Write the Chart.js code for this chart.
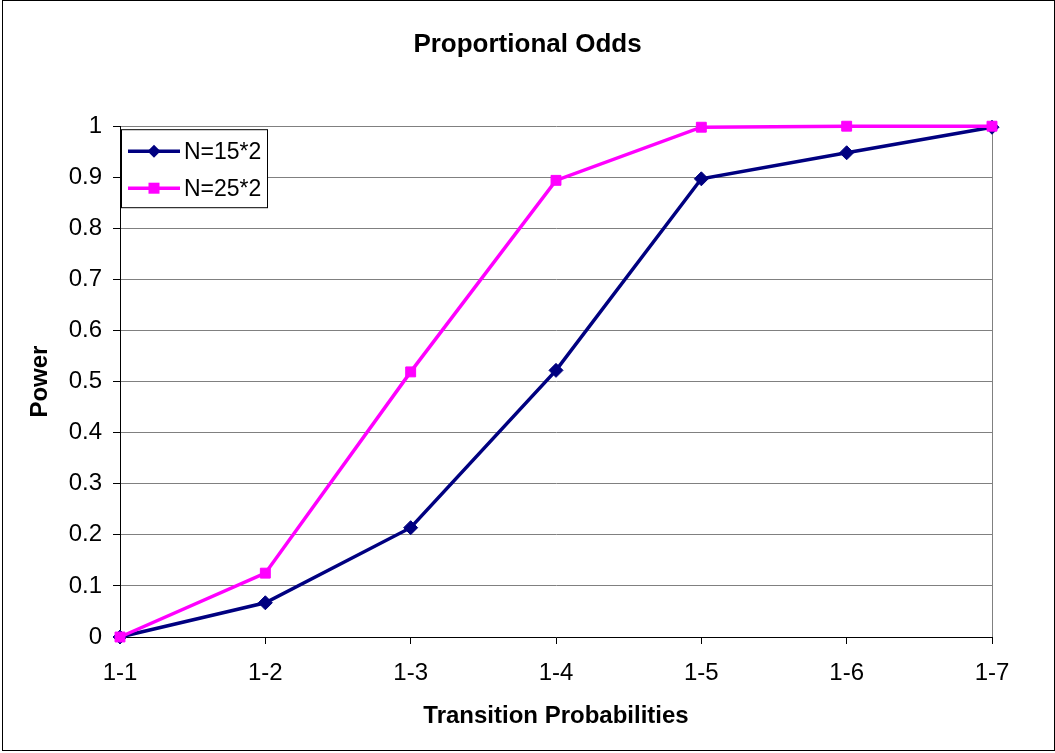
<!DOCTYPE html>
<html>
<head>
<meta charset="utf-8">
<style>
  html, body { margin: 0; padding: 0; background: #fff; }
  #wrap { width: 1055px; height: 753px; position: relative; }
</style>
<script src="https://cdn.jsdelivr.net/npm/chart.js@4/dist/chart.umd.min.js"></script>
</head>
<body>
<div id="wrap"><canvas id="chart" width="1055" height="753"></canvas></div>
<script>
// Categories: transition probability settings
const categories = ['1-1', '1-2', '1-3', '1-4', '1-5', '1-6', '1-7'];
// Power for each sample size
const powerN15 = [0, 0.067, 0.214, 0.522, 0.897, 0.948, 0.998];
const powerN25 = [0, 0.125, 0.519, 0.894, 0.998, 1.0, 1.0];
const seriesNames = ['N=15*2', 'N=25*2'];
const yTicks = [0, 0.1, 0.2, 0.3, 0.4, 0.5, 0.6, 0.7, 0.8, 0.9, 1];

const FONT = '"Liberation Sans", Arial, sans-serif';

// White background and outer frame
const frame = {
  id: 'frame',
  beforeDraw(chart) {
    const c = chart.ctx;
    c.save();
    c.fillStyle = '#fff';
    c.fillRect(0, 0, chart.width, chart.height);
    c.strokeStyle = '#000';
    c.lineWidth = 1;
    c.strokeRect(2.5, 0.5, chart.width - 3, chart.height - 3);
    c.restore();
  }
};

// Boxed legend placed in the upper-left corner of the plot area
const boxLegend = {
  id: 'boxLegend',
  afterDatasetsDraw(chart) {
    const c = chart.ctx;
    const a = chart.chartArea;
    const x0 = a.left + 1, y0 = a.top + 3, w = 146, h = 78;
    c.save();
    c.fillStyle = '#fff';
    c.fillRect(x0, y0, w, h);
    c.strokeStyle = '#000';
    c.lineWidth = 1;
    c.strokeRect(x0 + 0.5, y0 + 0.5, w, h);
    chart.data.datasets.forEach((ds, i) => {
      const y = y0 + 22 + i * 37;
      c.strokeStyle = ds.borderColor;
      c.lineWidth = 3.5;
      c.beginPath();
      c.moveTo(x0 + 7, y);
      c.lineTo(x0 + 59, y);
      c.stroke();
      c.fillStyle = ds.pointBackgroundColor;
      if (ds.pointStyle === 'rectRot') {
        c.beginPath();
        c.moveTo(x0 + 33, y - 6.5);
        c.lineTo(x0 + 39.5, y);
        c.lineTo(x0 + 33, y + 6.5);
        c.lineTo(x0 + 26.5, y);
        c.closePath();
        c.fill();
      } else {
        c.fillRect(x0 + 27.5, y - 5.5, 11, 11);
      }
      c.fillStyle = '#000';
      c.font = '23px ' + FONT;
      c.textBaseline = 'middle';
      c.textAlign = 'left';
      c.fillText(ds.label, x0 + 63, y + 1);
    });
    c.restore();
  }
};

new Chart(document.getElementById('chart'), {
  type: 'line',
  data: {
    labels: categories,
    datasets: [
      {
        label: seriesNames[0],
        data: powerN15,
        order: 1,
        borderColor: '#000080',
        backgroundColor: '#000080',
        pointBackgroundColor: '#000080',
        pointBorderColor: '#000080',
        pointStyle: 'rectRot',
        pointRadius: 7,
        pointBorderWidth: 1,
        borderWidth: 3.5,
        tension: 0,
        clip: false
      },
      {
        label: seriesNames[1],
        data: powerN25,
        order: 0,
        borderColor: '#FF00FF',
        backgroundColor: '#FF00FF',
        pointBackgroundColor: '#FF00FF',
        pointBorderColor: '#FF00FF',
        pointStyle: 'rect',
        pointRadius: 7,
        pointBorderWidth: 1,
        borderWidth: 3.5,
        tension: 0,
        clip: false
      }
    ]
  },
  options: {
    responsive: false,
    animation: false,
    devicePixelRatio: 1,
    layout: { padding: { top: 22, right: 0, bottom: 16, left: 0 } },
    plugins: {
      legend: { display: false },
      tooltip: { enabled: false },
      title: {
        display: true,
        text: 'Proportional Odds',
        color: '#000',
        font: { family: FONT, size: 26, weight: 'bold', lineHeight: 1.2 },
        padding: { top: 7, bottom: 66 }
      }
    },
    scales: {
      x: {
        type: 'category',
        offset: false,
        afterFit(s) { s.height = 100; },
        grid: {
          drawOnChartArea: true,
          color: (ctx) => ctx.index === categories.length - 1 ? '#808080' : 'rgba(0,0,0,0)',
          tickColor: '#000',
          tickLength: 7,
          lineWidth: 1
        },
        border: { display: true, color: '#000', width: 1 },
        ticks: {
          color: '#000',
          font: { family: FONT, size: 24 },
          padding: 15,
          maxRotation: 0,
          autoSkip: false
        },
        title: {
          display: true,
          text: 'Transition Probabilities',
          color: '#000',
          font: { family: FONT, size: 24, weight: 'bold', lineHeight: 1.2 },
          padding: { top: 0, bottom: 6 }
        }
      },
      y: {
        min: 0,
        max: 1,
        afterFit(s) { s.width = 120; },
        afterBuildTicks(s) { s.ticks = yTicks.map(v => ({ value: v })); },
        grid: {
          color: '#808080',
          tickColor: '#000',
          tickLength: 7,
          lineWidth: 1
        },
        border: { display: true, color: '#000', width: 1 },
        ticks: {
          color: '#000',
          font: { family: FONT, size: 24 },
          padding: 11,
          callback: (v) => String(Math.round(v * 10) / 10)
        },
        title: {
          display: true,
          text: 'Power',
          color: '#000',
          font: { family: FONT, size: 24, weight: 'bold', lineHeight: 1.2 },
          padding: { top: 26, bottom: 0 }
        }
      },
      // Empty right-hand margin so the plot ends short of the frame
      yMargin: {
        type: 'linear',
        position: 'right',
        min: 0,
        max: 1,
        afterFit(s) { s.width = 63; },
        grid: { display: false, drawOnChartArea: false },
        border: { display: false },
        ticks: { display: false },
        title: { display: false }
      }
    }
  },
  plugins: [frame, boxLegend]
});
</script>
</body>
</html>
